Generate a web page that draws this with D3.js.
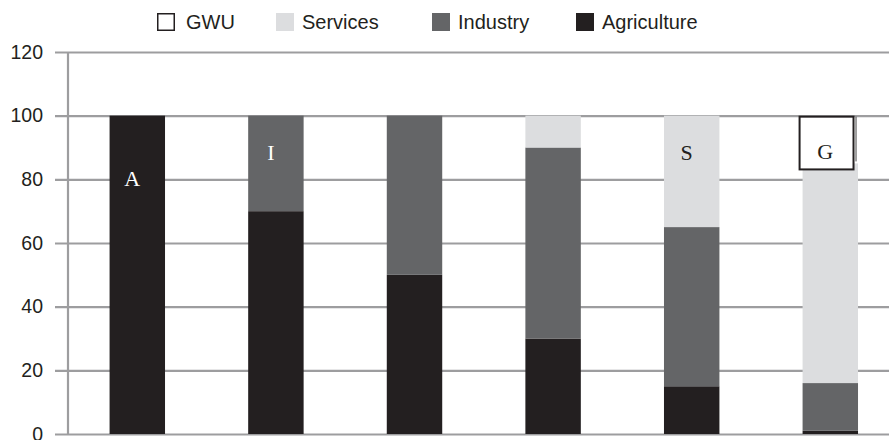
<!DOCTYPE html>
<html><head><meta charset="utf-8">
<script src="https://cdn.jsdelivr.net/npm/d3@7/dist/d3.min.js"></script>
<style>html,body{margin:0;padding:0;background:#fff;}svg{display:block;}</style>
</head><body>
<svg id="chart" width="889" height="440"></svg>
<script>
const categories = ["1", "2", "3", "4", "5", "6"];
const agriculture = [100, 70, 50, 30, 15, 1];
const industry = [0, 30, 50, 60, 50, 15];
const services = [0, 0, 0, 10, 35, 69];
const gwu = [0, 0, 0, 0, 0, 15];
const seriesNames = ["GWU", "Services", "Industry", "Agriculture"];
const yTicks = [0, 20, 40, 60, 80, 100, 120];
const stageLabels = [
  {cat: "1", text: "A", value: 78},
  {cat: "2", text: "I", value: 86},
  {cat: "5", text: "S", value: 86},
  {cat: "6", text: "G", value: 86.5}
];

(function () {
const colors = {Agriculture: "#231f20", Industry: "#646567", Services: "#dcdddf", GWU: "#ffffff"};
const svg = d3.select("#chart");
const mLeft = 68, mBottom = 434, mTop = 52;
const x = d3.scaleBand().domain(categories).range([mLeft, mLeft + 831.6]).paddingInner(0.6).paddingOuter(0.3);
const y = d3.scaleLinear().domain([0, 120]).range([mBottom, mTop]);
const gridColor = "#9d9d9f";
const textColor = "#231f20";

const yAxis = d3.axisLeft(y).tickValues(yTicks).tickSize(-(889 - mLeft)).tickPadding(12).tickFormat(d3.format("d"));
const gy = svg.append("g").attr("transform", `translate(${mLeft},0)`).call(yAxis);
gy.select(".domain").remove();
gy.selectAll(".tick line").attr("stroke", gridColor).attr("stroke-width", 2.2).attr("x1", -13);
gy.selectAll(".tick text").attr("x", -25).attr("fill", textColor)
  .style("font-family", "'Liberation Sans', Arial, sans-serif").style("font-size", "19.5px");
svg.append("line").attr("x1", mLeft).attr("x2", mLeft).attr("y1", mTop).attr("y2", mBottom)
  .attr("stroke", gridColor).attr("stroke-width", 2.2);

const rows = categories.map((c, i) => ({cat: c, Agriculture: agriculture[i], Industry: industry[i], Services: services[i], GWU: gwu[i]}));
const stack = d3.stack().keys(["Agriculture", "Industry", "Services", "GWU"]);
const stacked = stack(rows);
stacked.forEach(layer => {
  const isG = layer.key === "GWU";
  svg.append("g").selectAll("rect").data(layer.filter(d => d[1] - d[0] > 0)).join("rect")
    .attr("x", d => x(d.data.cat) + (isG ? -3 : 0))
    .attr("width", x.bandwidth() + (isG ? -1.5 : 0))
    .attr("y", d => y(d[1]) + (isG ? 1 : 0))
    .attr("height", d => y(d[0]) - y(d[1]) + (isG ? 5 : 0))
    .attr("fill", colors[layer.key])
    .attr("stroke", isG ? "#231f20" : "none")
    .attr("stroke-width", isG ? 2 : 0);
  if (isG) {
    svg.append("g").selectAll("line").data(layer.filter(d => d[1] - d[0] > 0)).join("line")
      .attr("x1", d => x(d.data.cat) + x.bandwidth() - 2)
      .attr("x2", d => x(d.data.cat) + x.bandwidth() - 2)
      .attr("y1", d => y(d[1]) + 1)
      .attr("y2", d => y(d[0]) - 2)
      .attr("stroke", "#444").attr("stroke-width", 1);
  }
});

svg.append("g").selectAll("text").data(stageLabels).join("text")
  .attr("x", d => x(d.cat) + x.bandwidth() / 2 - 5)
  .attr("y", d => y(d.value))
  .attr("text-anchor", "middle")
  .attr("fill", d => (d.cat === "1" || d.cat === "2") ? "#ffffff" : textColor)
  .style("font-family", "'Liberation Serif', 'Times New Roman', serif")
  .style("font-size", "22px")
  .text(d => d.text);

const legendX = [157, 276, 432, 576];
const lg = svg.append("g");
seriesNames.forEach((name, i) => {
  const g = lg.append("g").attr("transform", `translate(${legendX[i]},13)`);
  g.append("rect").attr("x", name === "GWU" ? 0.75 : 0).attr("y", name === "GWU" ? 0.75 : 0)
    .attr("width", name === "GWU" ? 16.5 : 18).attr("height", name === "GWU" ? 16.5 : 18)
    .attr("fill", colors[name])
    .attr("stroke", name === "GWU" ? "#231f20" : "none").attr("stroke-width", 1.5);
  g.append("text").attr("x", name === "GWU" ? 29 : 26).attr("y", 16).attr("fill", textColor)
    .style("font-family", "'Liberation Sans', Arial, sans-serif").style("font-size", "20px")
    .text(name);
});
})();
</script>
</body></html>
